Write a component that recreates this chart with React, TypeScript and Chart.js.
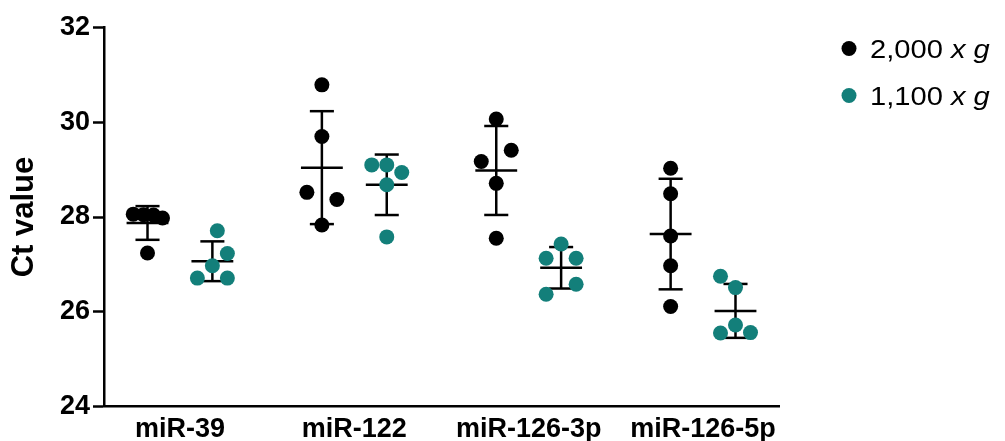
import { useEffect, useRef } from "react";
import { Chart, registerables } from "chart.js";

Chart.register(...registerables);

// Categories and axis ticks
const categories = ["miR-39", "miR-122", "miR-126-3p", "miR-126-5p"];
const yTicks = [24, 26, 28, 30, 32];

// Series labels ("<speed> x g")
const seriesLabels = ["2,000 x g", "1,100 x g"];
const seriesColors = ["#000000", "#137f7a"];

// Ct values, five replicates per miRNA
const ct2000 = [
  [28.06, 28.05, 28.04, 27.98, 27.24],
  [30.79, 29.7, 28.52, 28.37, 27.83],
  [30.07, 29.41, 29.17, 28.71, 27.55],
  [29.03, 28.49, 27.6, 26.97, 26.11],
];
const ct1100 = [
  [27.71, 27.23, 26.97, 26.71, 26.71],
  [29.1, 29.1, 28.94, 28.68, 27.58],
  [27.43, 27.13, 27.13, 26.58, 26.37],
  [26.75, 26.51, 25.72, 25.55, 25.56],
];

// Sideways spread of overlapping replicates, in dot widths
const spread2000 = [
  [-0.95, -0.27, 0.4, 1, 0],
  [0, 0, -1, 1, 0],
  [0, 1, -1, 0, 0],
  [0, 0, 0, 0, 0],
];
const spread1100 = [
  [0.33, 1, 0, -1, 1],
  [-1, 0, 1, 0, 0],
  [0, -1, 1, 1, -1],
  [-1, 0, 0, -1, 1],
];

const FONT = '"Liberation Sans", Arial, Helvetica, sans-serif';
const COL = 0.186; // column offset from the category centre
const STEP = 0.086; // one dot width in category units
const MEAN_HALF = 0.12;
const CAP_HALF = 0.069;

const groups = [
  { values: ct2000, spread: spread2000, side: -1 },
  { values: ct1100, spread: spread1100, side: 1 },
];

function toPoints(values: number[][], spread: number[][], side: number) {
  return values.flatMap((grp, i) =>
    grp.map((v, j) => ({ x: i + side * COL + spread[i][j] * STEP, y: v }))
  );
}

function meanSd(vals: number[]) {
  const m = vals.reduce((a, b) => a + b, 0) / vals.length;
  const v = vals.reduce((a, b) => a + (b - m) * (b - m), 0) / (vals.length - 1);
  return { m, sd: Math.sqrt(v) };
}

// Mean line with ±SD whiskers behind each column of dots
const meanSdPlugin = {
  id: "meanSd",
  beforeDatasetsDraw(chart: any) {
    const { ctx } = chart;
    const x = chart.scales.x;
    const y = chart.scales.y;
    ctx.save();
    ctx.strokeStyle = "#000";
    ctx.lineWidth = 2.5;
    const seg = (x1: number, y1: number, x2: number, y2: number) => {
      ctx.beginPath();
      ctx.moveTo(x1, y1);
      ctx.lineTo(x2, y2);
      ctx.stroke();
    };
    groups.forEach(({ values, side }) =>
      values.forEach((grp, i) => {
        const { m, sd } = meanSd(grp);
        const cx = i + side * COL;
        const px = x.getPixelForValue(cx);
        seg(px, y.getPixelForValue(m + sd), px, y.getPixelForValue(m - sd));
        seg(x.getPixelForValue(cx - MEAN_HALF), y.getPixelForValue(m), x.getPixelForValue(cx + MEAN_HALF), y.getPixelForValue(m));
        [m + sd, m - sd].forEach((v) =>
          seg(x.getPixelForValue(cx - CAP_HALF), y.getPixelForValue(v), x.getPixelForValue(cx + CAP_HALF), y.getPixelForValue(v))
        );
      })
    );
    ctx.restore();
  },
};

// Key at the top right: dot, speed, italic "x g"
const keyPlugin = {
  id: "seriesKey",
  afterDraw(chart: any) {
    const { ctx, chartArea } = chart;
    const x0 = chartArea.right + 70;
    chart.data.datasets.forEach((ds: any, k: number) => {
      const cy = chartArea.top + 21 + k * 47;
      ctx.save();
      ctx.beginPath();
      ctx.arc(x0, cy, 7.5, 0, Math.PI * 2);
      ctx.fillStyle = ds.backgroundColor;
      ctx.fill();
      const [num, ...unit] = String(ds.label).split(" ");
      ctx.fillStyle = "#000";
      ctx.textBaseline = "middle";
      ctx.textAlign = "left";
      // slightly widened lettering
      ctx.translate(x0 + 21, cy + 2);
      ctx.scale(1.12, 1);
      ctx.font = `26px ${FONT}`;
      const lead = num + " ";
      ctx.fillText(lead, 0, 0);
      const w = ctx.measureText(lead).width;
      ctx.font = `italic 26px ${FONT}`;
      ctx.fillText(unit.join(" "), w, 0);
      ctx.restore();
    });
  },
};

export default function App() {
  const ref = useRef<HTMLCanvasElement>(null);

  useEffect(() => {
    const chart = new Chart(ref.current!, {
      type: "scatter",
      data: {
        datasets: groups.map((g, k) => ({
          label: seriesLabels[k],
          data: toPoints(g.values, g.spread, g.side),
          backgroundColor: seriesColors[k],
          borderColor: seriesColors[k],
          borderWidth: 0,
          pointRadius: 7.5,
          pointHoverRadius: 7.5,
        })),
      },
      options: {
        responsive: false,
        devicePixelRatio: 1,
        animation: false,
        events: [],
        layout: { padding: { top: 27.5, right: 226, left: 0, bottom: 0 } },
        plugins: { legend: { display: false }, tooltip: { enabled: false } },
        scales: {
          x: {
            type: "linear",
            min: -0.4355,
            max: 3.4355,
            afterBuildTicks: (s: any) => {
              s.ticks = categories.map((_, i) => ({ value: i }));
            },
            afterFit: (s: any) => {
              s.height = 34.5;
            },
            grid: { drawOnChartArea: false, drawTicks: false },
            border: { display: true, color: "#000", width: 2.5 },
            ticks: {
              autoSkip: false,
              maxRotation: 0,
              padding: 7,
              color: "#000",
              font: { family: FONT, size: 27, weight: "bold" },
              callback: (v: any) => categories[v as number] ?? "",
            },
          },
          y: {
            min: 24,
            max: 32,
            afterBuildTicks: (s: any) => {
              s.ticks = yTicks.map((v) => ({ value: v }));
            },
            afterFit: (s: any) => {
              s.width = 104;
            },
            grid: { drawOnChartArea: false, drawTicks: true, tickLength: 11, tickWidth: 2.5, tickColor: "#000" },
            border: { display: true, color: "#000", width: 2.5 },
            ticks: {
              padding: 3,
              color: "#000",
              font: { family: FONT, size: 27, weight: "bold" },
            },
            title: {
              display: true,
              text: "Ct value",
              color: "#000",
              padding: { top: 6, bottom: 0 },
              font: { family: FONT, size: 31, weight: "bold" },
            },
          },
        },
      },
      plugins: [meanSdPlugin, keyPlugin],
    });
    return () => chart.destroy();
  }, []);

  return (
    <div style={{ position: "absolute", left: 0, top: 0, width: 1005, height: 441, background: "#fff" }}>
      <canvas ref={ref} width={1005} height={441} style={{ display: "block" }} />
    </div>
  );
}
